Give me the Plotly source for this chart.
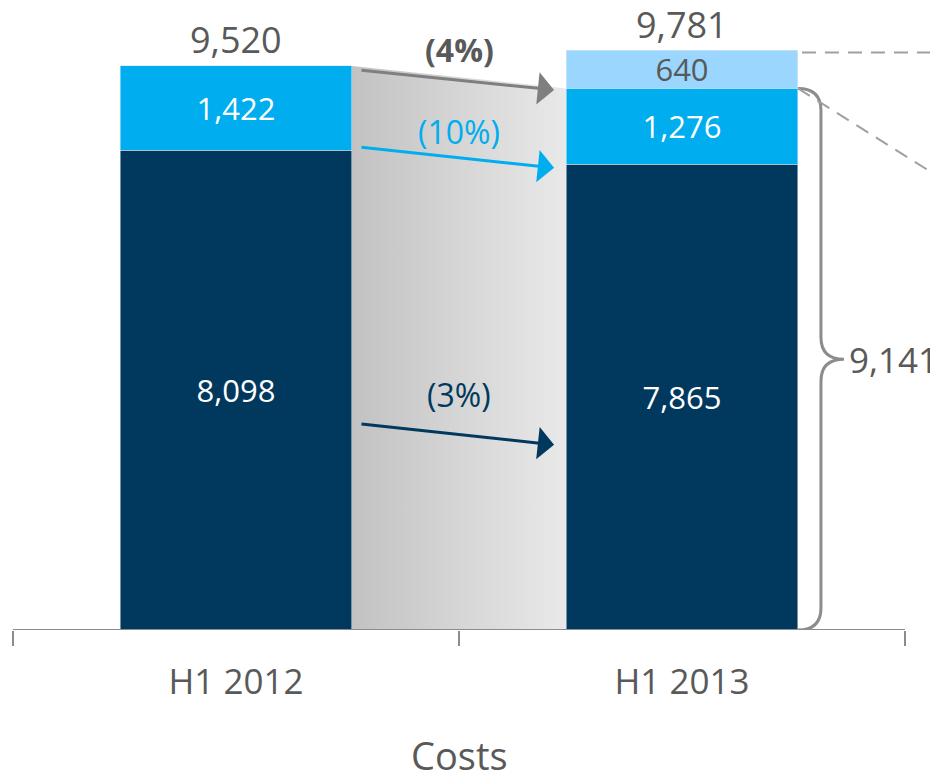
import plotly.graph_objects as go

periods = ["H1 2012", "H1 2013"]
base_costs = [8098, 7865]
mid_costs = [1422, 1276]
extra_costs = [0, 640]
totals = [9520, 9781]
core_2013 = base_costs[1] + mid_costs[1]

DARK = "#00395D"
BLUE = "#00ADEF"
LIGHT = "#9AD6FD"
GREY_TXT = "#595959"
GREY_LINE = "#8C8C8C"
FONT = "Open Sans"

# page body adds an 8px margin, so the figure is 8px smaller than the window
PAGE_OFF = 8
bar_w = 0.52
half = bar_w / 2
px_x = 446.0       # pixels per category unit
px_y = 0.05925     # pixels per cost unit
plot_h = 630 - PAGE_OFF
x_range = [-0.5 - (13 - PAGE_OFF) / px_x, 1.5 + 33 / px_x]
y_range = [0, plot_h / px_y]

xs = [0, 1]

fig = go.Figure()

# grey gradient band between the two bars
fig.add_trace(go.Scatter(
    x=[xs[0] + half, xs[1] - half, xs[1] - half, xs[0] + half],
    y=[totals[0], core_2013, 0, 0],
    fill="toself", mode="none",
    fillgradient=dict(type="horizontal", colorscale=[[0, "#C2C2C2"], [1, "#E9E9E9"]]),
    hoverinfo="skip", showlegend=False,
))

bar_txt = dict(textposition="inside", insidetextanchor="middle", constraintext="none",
               width=bar_w, showlegend=False, hoverinfo="skip")
fig.add_trace(go.Bar(x=xs, y=base_costs, marker_color=DARK,
                     text=[f"{v:,}" for v in base_costs],
                     textfont=dict(color="white", size=31), **bar_txt))
fig.add_trace(go.Bar(x=xs, y=mid_costs, marker_color=BLUE,
                     text=[f"{v:,}" for v in mid_costs],
                     textfont=dict(color="white", size=31), **bar_txt))
fig.add_trace(go.Bar(x=xs, y=extra_costs, marker_color=LIGHT,
                     text=[f"{v:,}" if v else "" for v in extra_costs],
                     textfont=dict(color=GREY_TXT, size=31), **bar_txt))

# totals above the bars
for x, t in zip(xs, totals):
    fig.add_annotation(x=x, y=t, yshift=26, yanchor="middle", text=f"{t:,}",
                       showarrow=False, font=dict(color=GREY_TXT, size=36))

# change arrows with percentage labels
pcts = [
    (core_2013 - totals[0]) / totals[0] * 100,
    (mid_costs[1] - mid_costs[0]) / mid_costs[0] * 100,
    (base_costs[1] - base_costs[0]) / base_costs[0] * 100,
]
arrow_from = [9450, 8150, 3480]
arrow_to = [9115, 7800, 3125]
arrow_cols = ["#7F7F7F", BLUE, DARK]
label_cols = [GREY_TXT, BLUE, DARK]
label_shift = [31, 26, 40]
x_start = xs[0] + half + 8 / px_x
x_end = xs[1] - half - 12 / px_x
for p, y0, y1, ac, lc, sh in zip(pcts, arrow_from, arrow_to, arrow_cols, label_cols, label_shift):
    fig.add_annotation(x=x_end, y=y1, ax=x_start, ay=y0, axref="x", ayref="y",
                       text="", showarrow=True, arrowhead=1, arrowsize=1.8,
                       arrowwidth=3, arrowcolor=ac)
    txt = f"({abs(p):.0f}%)"
    if lc == GREY_TXT:
        txt = f"<b>{txt}</b>"
    fig.add_annotation(x=0.5, y=(y0 + y1) / 2, yshift=sh, yanchor="middle", text=txt,
                       showarrow=False, font=dict(color=lc, size=32))

# brace around the core 2013 costs
bx0 = xs[1] + half
bxv = bx0 + 23 / px_x
bxt = bx0 + 46 / px_x
ry = 22 / px_y
top, mid = core_2013, core_2013 / 2
brace = (f"M {bx0},{top} Q {bxv},{top} {bxv},{top - ry} L {bxv},{mid + ry} "
         f"Q {bxv},{mid} {bxt},{mid} Q {bxv},{mid} {bxv},{mid - ry} "
         f"L {bxv},{ry} Q {bxv},0 {bx0},0")
fig.add_shape(type="path", path=brace, xref="x", yref="y",
              line=dict(color=GREY_LINE, width=3))
fig.add_annotation(x=bxt, y=mid, xshift=3, xanchor="left", yanchor="middle",
                   text=f"{core_2013:,}", showarrow=False,
                   font=dict(color=GREY_TXT, size=35))

# dashed guide lines to the right
fig.add_shape(type="line", x0=bx0 + 4 / px_x, y0=totals[1] - 35, x1=x_range[1], y1=totals[1] - 35,
              line=dict(color="#A0A0A0", width=2, dash="14px,9px"))
fig.add_shape(type="line", x0=bx0, y0=core_2013, x1=x_range[1], y1=core_2013 - 88 / px_y,
              line=dict(color="#A0A0A0", width=2, dash="14px,9px"))

# axis baseline
fig.add_shape(type="line", x0=-0.5, y0=0, x1=1.5, y1=0, xref="x", yref="y",
              line=dict(color=GREY_LINE, width=2))

fig.add_annotation(x=0.5, y=-(755 - 630) / plot_h, yref="paper", yanchor="middle",
                   text="Costs", showarrow=False, font=dict(color=GREY_TXT, size=38))

fig.update_layout(
    width=938 - PAGE_OFF, height=776 - PAGE_OFF,
    barmode="stack",
    plot_bgcolor="white", paper_bgcolor="white",
    margin=dict(l=0, r=0, t=0, b=776 - 630),
    font=dict(family=FONT, color=GREY_TXT),
    xaxis=dict(range=x_range, tickvals=xs, ticktext=periods, ticks="",
               ticklabelstandoff=28, tickfont=dict(size=35, color=GREY_TXT),
               showgrid=False, zeroline=False, showline=False, fixedrange=True,
               minor=dict(tickvals=[-0.5, 0.5, 1.5], ticks="outside", ticklen=15,
                          tickwidth=2, tickcolor=GREY_LINE, showgrid=False)),
    yaxis=dict(range=y_range, visible=False, fixedrange=True),
)

fig.write_html("out.html")
